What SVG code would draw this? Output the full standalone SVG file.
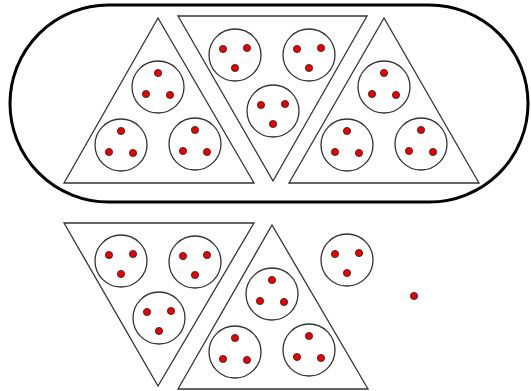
<svg xmlns="http://www.w3.org/2000/svg" width="531" height="391" viewBox="0 0 531 391">
<style>
.tri{fill:none;stroke:#333;stroke-width:1.3;stroke-linejoin:miter}
.c{fill:none;stroke:#333;stroke-width:1.3}
.d{fill:#e00;stroke:#222;stroke-width:0.8}
.stad{fill:none;stroke:#000;stroke-width:3}
</style>
<defs>
<g id="cu"><circle class="c" r="26"/><circle class="d" cx="0" cy="-14" r="3.6"/><circle class="d" cx="-12" cy="7" r="3.6"/><circle class="d" cx="12" cy="8" r="3.6"/></g>
<g id="cd"><circle class="c" r="26"/><circle class="d" cx="-12" cy="-6" r="3.6"/><circle class="d" cx="12" cy="-7" r="3.6"/><circle class="d" cx="0" cy="13" r="3.6"/></g>
</defs>
<rect id="group" class="stad" x="10" y="5" width="518" height="197" rx="98.5" ry="98.5"/>
<g id="tri1"><polygon class="tri" points="158,18 64,183 254,183"/><use href="#cu" x="158" y="87"/><use href="#cu" x="121" y="145"/><use href="#cu" x="195" y="144"/></g>
<g id="tri2"><polygon class="tri" points="178,16 367,16 273,181"/><use href="#cd" x="235" y="55"/><use href="#cd" x="309" y="55"/><use href="#cd" x="273" y="111"/></g>
<g id="tri3"><polygon class="tri" points="384,18 289,183 479,183"/><use href="#cu" x="384" y="87"/><use href="#cu" x="347" y="145"/><use href="#cu" x="421" y="144"/></g>
<g id="tri4"><polygon class="tri" points="64,223 254,223 158,386"/><use href="#cd" x="121" y="261"/><use href="#cd" x="195" y="262"/><use href="#cd" x="159" y="318"/></g>
<g id="tri5"><polygon class="tri" points="272,225 178,389 368,389"/><use href="#cu" x="272" y="294"/><use href="#cu" x="235" y="352"/><use href="#cu" x="309" y="350"/></g>
<g id="circle"><use href="#cd" x="347" y="260"/></g>
<g id="dot"><circle class="d" cx="414" cy="296" r="3.6"/></g>
<g id="connectors"/>
</svg>
